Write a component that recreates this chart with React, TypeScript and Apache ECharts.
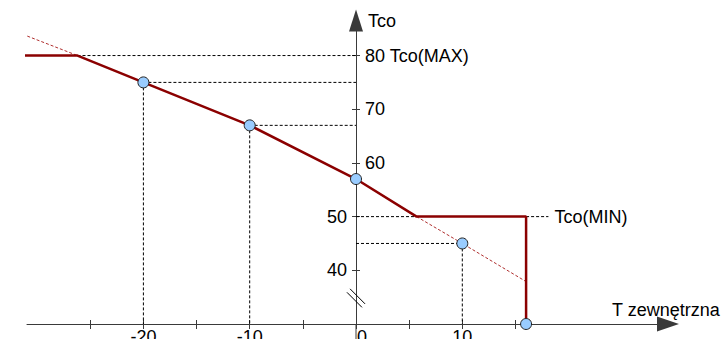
import React, { useEffect, useRef } from 'react';
import * as echarts from 'echarts';

// ---- data ----
const xTicks = [-25, -20, -15, -10, -5, 0, 5, 10, 15];
const xTickLabels = [-20, -10, 0, 10];
const yTicks = [40, 50, 60, 70, 80];
const yLabelsLeft = [40, 50];
const yLabelsRight = [60, 70, 80];
const maxNote = 'Tco(MAX)';
const minNote = 'Tco(MIN)';
const yName = 'Tco';
const xName = 'T zewnętrzna';

// heating curve (solid, limited by MAX / MIN)
const curveX = [-32, -26.2, -20, -10, 0, 5.7, 16, 16];
const curveY = [80, 80, 75, 67, 57, 50, 50, 30];
// unlimited curve (thin dashed)
const lineX = [-31.8, -26.2, -20, -10, 0, 5.7, 10, 16];
const lineY = [84.3, 80, 75, 67, 57, 50, 45, 37.9];
// marked points
const pointX = [-20, -10, 0, 10, 16];
const pointY = [75, 67, 57, 45, 30];
// dashed guide segments
const guides: number[][][] = [
  [[-26.2, 80], [0, 80]],
  [[-20, 75], [0, 75]],
  [[-20, 75], [-20, 30]],
  [[-10, 67], [0, 67]],
  [[-10, 67], [-10, 30]],
  [[0, 50], [5.7, 50]],
  [[0, 45], [10, 45]],
  [[10, 45], [10, 30]],
];
const minGuide = [[16, 50], [18.1, 50]];
const axisTail = [[0, 30], [0, 27.2]];
const breakMarks: number[][][] = [
  [[-0.85, 35.9], [0.56, 33.1]],
  [[-0.56, 36.55], [0.85, 33.75]],
];

const X_MIN = -30.95;
const X_MAX = 29.35;
const Y_MIN = 30;
const Y_MAX = 86.53;

const FONT = "'Liberation Sans', Arial, sans-serif";
const AXIS = '#3a3a3a';
const RED = '#8b0000';

export default function App() {
  const ref = useRef<HTMLDivElement>(null);
  useEffect(() => {
    if (!ref.current) return;
    const chart = echarts.init(ref.current, undefined, { renderer: 'svg' });
    const lbl = { fontSize: 18, color: '#000', fontFamily: FONT };
    const dashed = { color: '#000', width: 1, type: [3, 2] as number[] };
    const L = 27;
    const R = 54;
    const plotW = 722 - L - R;
    const zeroPx = L + ((0 - X_MIN) / (X_MAX - X_MIN)) * plotW;
    const hidden = {
      axisLine: { show: false }, axisTick: { show: false }, axisLabel: { show: false }, splitLine: { show: false },
    };
    const option: any = {
      animation: false,
      textStyle: { fontFamily: FONT },
      grid: [
        { left: L, right: R, top: 20.5, bottom: 15, containLabel: false, outerBoundsMode: 'none' },
        { left: zeroPx, right: R, top: 20.5, bottom: 15, containLabel: false, outerBoundsMode: 'none' },
      ],
      xAxis: [
        {
          gridIndex: 0, type: 'value', min: X_MIN, max: X_MAX, position: 'bottom',
          axisLine: {
            show: true, onZero: false,
            symbol: ['none', 'path://M7.5,0L15,22L0,22Z'], symbolSize: [15, 22],
            lineStyle: { color: AXIS, width: 1 },
          },
          axisTick: { show: true, customValues: xTicks, length: 5, lineStyle: { color: AXIS } },
          axisLabel: {
            show: true, customValues: xTickLabels, margin: 4, ...lbl,
            formatter: (v: number) => (v === 0 ? '{z|0}' : String(v)),
            rich: { z: { ...lbl, padding: [0, 0, 0, 12] } },
          },
          splitLine: { show: false },
          name: xName, nameLocation: 'end', nameGap: -56,
          nameTextStyle: { ...lbl, align: 'left', verticalAlign: 'bottom', padding: [0, 0, 5, 0] },
        },
        {
          gridIndex: 0, type: 'value', min: X_MIN, max: X_MAX, position: 'bottom',
          axisLine: { show: false, onZero: false },
          axisTick: { show: true, inside: true, customValues: xTicks, length: 4, lineStyle: { color: AXIS } },
          axisLabel: { show: false },
          splitLine: { show: false },
        },
        { gridIndex: 1, type: 'value', min: 0, max: X_MAX, ...hidden },
      ],
      yAxis: [
        { gridIndex: 0, type: 'value', min: Y_MIN, max: Y_MAX, ...hidden },
        {
          gridIndex: 1, type: 'value', min: Y_MIN, max: Y_MAX, position: 'left',
          axisLine: {
            show: true, onZero: false,
            symbol: ['none', 'path://M7,0L14,22L0,22Z'], symbolSize: [14, 22],
            lineStyle: { color: AXIS, width: 1 },
          },
          axisTick: { show: true, customValues: yTicks, length: 4, lineStyle: { color: AXIS } },
          axisLabel: { show: true, customValues: yLabelsLeft, margin: 9, ...lbl },
          splitLine: { show: false },
          name: yName, nameLocation: 'end', nameGap: 0,
          nameTextStyle: { ...lbl, align: 'left', verticalAlign: 'middle', padding: [0, 0, 0, 12] },
        },
        {
          gridIndex: 1, type: 'value', min: Y_MIN, max: Y_MAX, position: 'left',
          axisLine: { show: false, onZero: false },
          axisTick: { show: true, inside: true, customValues: yTicks, length: 4, lineStyle: { color: AXIS } },
          axisLabel: {
            show: true, inside: true, customValues: yLabelsRight, margin: 9, ...lbl,
            formatter: (v: number) => (v === 80 ? `${v} ${maxNote}` : String(v)),
          },
          splitLine: { show: false },
        },
      ],
      series: [
        {
          type: 'line', data: lineX.map((x, i) => [x, lineY[i]]), symbol: 'none', clip: false, silent: true,
          lineStyle: { color: '#b03030', width: 1, type: [3, 2] }, z: 2,
        },
        ...guides.map((g) => ({
          type: 'line', data: g, symbol: 'none', clip: false, silent: true, lineStyle: dashed, z: 1,
        })),
        {
          type: 'line', data: minGuide, symbol: 'none', clip: false, silent: true, lineStyle: dashed, z: 1,
          endLabel: { show: true, formatter: minNote, distance: 6, ...lbl },
        },
        {
          type: 'line', data: curveX.map((x, i) => [x, curveY[i]]), symbol: 'none', clip: false, silent: true,
          lineStyle: { color: RED, width: 2.5 }, z: 3,
        },
        {
          type: 'line', data: axisTail, symbol: 'none', clip: false, silent: true,
          lineStyle: { color: AXIS, width: 1 }, z: 1,
        },
        ...breakMarks.map((b) => ({
          type: 'line', data: b, symbol: 'none', clip: false, silent: true,
          lineStyle: { color: '#000', width: 1 }, z: 4,
        })),
        {
          type: 'scatter', data: pointX.map((x, i) => [x, pointY[i]]), symbol: 'circle', symbolSize: 11,
          clip: false, silent: true, z: 10,
          itemStyle: { color: '#99ccff', borderColor: '#222', borderWidth: 1, opacity: 1 },
        },
      ],
    };
    chart.setOption(option);
    return () => chart.dispose();
  }, []);
  return (
    <div
      ref={ref}
      style={{ position: 'fixed', left: 0, top: 0, width: 722, height: 339, background: '#fff' }}
    />
  );
}
